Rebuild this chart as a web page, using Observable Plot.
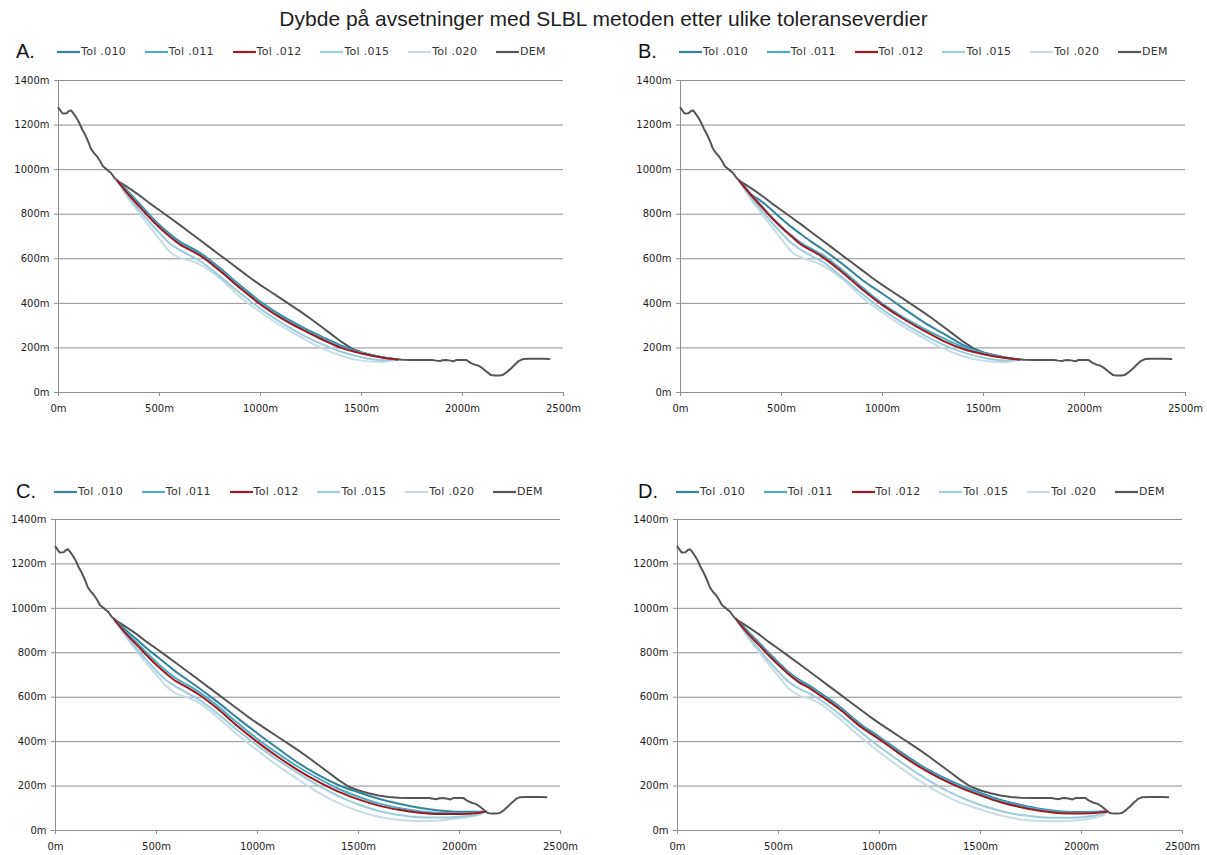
<!DOCTYPE html>
<html>
<head>
<meta charset="utf-8">
<script src="https://cdn.jsdelivr.net/npm/d3@7"></script>
<script src="https://cdn.jsdelivr.net/npm/@observablehq/plot@0.6"></script>
<style>
  html, body { margin: 0; padding: 0; background: #fff; }
  #root { position: relative; width: 1207px; height: 855px; overflow: hidden; background: #fff; }
  #title { position: absolute; left: 0; width: 1207px; top: 7px; text-align: center;
           font-family: "Liberation Sans", Arial, sans-serif; font-size: 21px; color: #1e1e1e; }
  .letter { position: absolute; font-family: "Liberation Sans", Arial, sans-serif; font-size: 20px; color: #111; line-height: 1; }
  .legtext { position: absolute; font-family: "DejaVu Sans", sans-serif; font-size: 11px; letter-spacing: 0.3px; color: #333; line-height: 1; white-space: nowrap; }
</style>
</head>
<body>
<div id="root">
  <div id="title">Dybde på avsetninger med SLBL metoden etter ulike toleranseverdier</div>
</div>
<script>
// ---------- data ----------
const SERIES = ["Tol .010", "Tol .011", "Tol .012", "Tol .015", "Tol .020", "DEM"];
const COLORS = ["#31849B", "#4BACC6", "#A0191E", "#9CCBDA", "#C8DCE5", "#555555"];
const PANELS = ["A.", "B.", "C.", "D."];
const X_TICKS = [0, 500, 1000, 1500, 2000, 2500];
const Y_TICKS = [0, 200, 400, 600, 800, 1000, 1200, 1400];

// terrain profile (same in all panels)
const DEM_X = [0,12,20,40,52,62,72,85,100,115,130,145,160,175,190,205,220,240,260,280,300,330,360,400,450,500,550,600,650,700,750,800,850,900,950,1000,1050,1100,1150,1200,1250,1300,1350,1400,1450,1500,1550,1600,1650,1700,1750,1800,1850,1870,1890,1900,1920,1940,1955,1970,2000,2020,2040,2060,2080,2100,2120,2140,2160,2180,2200,2220,2240,2260,2280,2300,2330,2360,2400,2430];
const DEM_Y = [1278,1262,1252,1253,1263,1266,1255,1238,1215,1185,1160,1130,1095,1075,1060,1040,1015,1000,985,960,945,928,910,885,850,818,785,752,718,684,650,616,582,548,514,482,452,422,392,362,330,296,262,228,198,180,168,158,151,147,146,146,146,143,141,145,146,143,140,146,146,146,133,125,120,108,93,79,76,76,79,92,108,126,142,150,151,151,151,150];

// SLBL surfaces: x positions
const X_AB = [290,350,400,450,500,550,600,650,700,800,900,1000,1100,1200,1300,1400,1500,1600,1680];
const X_CD = [290,350,400,450,500,550,600,650,700,800,900,1000,1100,1200,1300,1400,1500,1600,1700,1800,1900,2000,2100,2130];

// Panel A
const A_010 = [952,897,847,797,752,712,677,652,627,557,480,407,347,297,252,210,180,158,148];
const A_011 = [952,891,841,791,746,706,671,646,621,551,474,401,341,291,246,205,178,158,148];
const A_012 = [952,885,835,785,740,700,665,640,615,545,468,395,335,285,240,200,175,157,148];
const A_015 = [951,875,820,765,715,670,640,615,590,520,445,375,315,262,218,183,158,145,148];
const A_020 = [950,865,805,745,688,632,605,592,574,512,428,360,300,248,200,165,143,137,148];
// Panel B
const B_010 = [953,890,858,820,780,742,708,675,645,578,505,443,380,318,265,213,178,158,148];
const B_011 = [952,889,839,789,744,704,669,644,619,549,472,399,339,289,244,203,177,157,148];
const B_012 = [952,885,835,785,740,700,662,637,610,540,462,392,332,280,232,195,172,156,148];
const B_015 = [951,875,820,765,715,670,638,612,588,518,442,372,312,260,215,180,156,144,148];
const B_020 = [950,865,805,745,688,632,605,590,572,510,426,358,298,246,198,163,142,136,148];
// Panel C
const C_010 = [953,900,862,822,785,748,712,680,648,580,507,437,370,305,250,205,172,143,120,102,90,84,84,86];
const C_011 = [953,890,848,802,758,718,683,657,630,563,485,412,347,287,235,188,152,122,101,87,80,78,82,86];
const C_012 = [952,885,838,790,745,705,670,645,618,550,470,398,332,272,220,175,140,112,93,80,74,74,80,86];
const C_015 = [951,878,822,768,718,675,645,620,595,528,452,382,318,258,203,155,117,88,70,60,58,62,75,86];
const C_020 = [950,870,810,752,700,648,615,600,580,512,432,360,292,230,172,124,87,62,47,42,45,55,72,86];
// Panel D
const D_010 = [952,895,849,801,756,714,679,654,623,559,483,421,356,296,246,204,169,138,115,97,86,83,85,86];
const D_011 = [952,890,844,796,751,709,674,649,618,554,478,416,351,291,241,199,164,133,110,93,82,80,84,86];
const D_012 = [952,885,838,790,745,703,668,643,612,548,472,410,345,285,235,193,158,127,105,88,78,76,82,86];
const D_015 = [951,876,820,765,715,670,640,618,592,525,448,377,312,250,195,150,115,88,70,60,57,60,74,86];
const D_020 = [950,868,808,750,695,640,608,595,575,505,425,352,285,222,168,125,95,68,50,43,42,48,66,86];

const PANEL_DATA = [
  {xs: X_AB, ys: [A_010, A_011, A_012, A_015, A_020]},
  {xs: X_AB, ys: [B_010, B_011, B_012, B_015, B_020]},
  {xs: X_CD, ys: [C_010, C_011, C_012, C_015, C_020]},
  {xs: X_CD, ys: [D_010, D_011, D_012, D_015, D_020]}
];

// ---------- layout ----------
const LAYOUT = [
  {left: 0,   top: 70,  ml: 58, width: 603, plotH: 312, legY: 52},
  {left: 622, top: 70,  ml: 58, width: 603, plotH: 312, legY: 52},
  {left: 0,   top: 509, ml: 55, width: 600, plotH: 311, legY: 492},
  {left: 622, top: 509, ml: 55, width: 600, plotH: 311, legY: 492}
];

const root = document.getElementById("root");
const fmt = d => d + "m";
const GRID = "#8f8f8f";
const DRAW_ORDER = [4, 3, 0, 1, 2]; // light lines below, red on top

PANELS.forEach((letter, p) => {
  const L = LAYOUT[p];
  const P = PANEL_DATA[p];
  const demRows = DEM_X.map((x, i) => ({x, y: DEM_Y[i]}));
  const lineMarks = DRAW_ORDER.map(k => {
    const rows = P.xs.map((x, i) => ({x, y: P.ys[k][i]}));
    return Plot.line(rows, {x: "x", y: "y", stroke: COLORS[k], strokeWidth: 2, curve: "monotone-x"});
  });
  const chart = Plot.plot({
    width: L.width,
    height: 10 + L.plotH + 32,
    marginLeft: L.ml, marginRight: L.width - L.ml - 505, marginTop: 10, marginBottom: 32,
    x: {domain: [0, 2500], label: null},
    y: {domain: [0, 1400], label: null},
    style: {fontFamily: "'DejaVu Sans', sans-serif", fontSize: "10px", color: "#1c1c1c", background: "transparent", overflow: "visible"},
    marks: [
      Plot.gridY(Y_TICKS.filter(d => d > 0), {stroke: GRID, strokeOpacity: 1, strokeWidth: 1}),
      Plot.ruleY([0], {stroke: GRID, strokeWidth: 1}),
      Plot.ruleX([0], {stroke: GRID, strokeWidth: 1}),
      Plot.axisY({ticks: Y_TICKS, tickFormat: fmt, tickSize: 4, tickPadding: 5, stroke: GRID}),
      Plot.axisX({ticks: X_TICKS, tickFormat: fmt, tickSize: 4, tickPadding: 8, stroke: GRID}),
      Plot.line(demRows, {x: "x", y: "y", stroke: COLORS[5], strokeWidth: 2}),
      ...lineMarks
    ]
  });
  chart.style.position = "absolute";
  chart.style.left = L.left + "px";
  chart.style.top = L.top + "px";
  root.appendChild(chart);

  // panel letter
  const lt = document.createElement("div");
  lt.className = "letter";
  lt.textContent = letter;
  lt.style.left = (L.left + 16) + "px";
  lt.style.top = (L.legY - 11) + "px";
  root.appendChild(lt);

  // legend
  const x0 = L.left + L.ml;
  SERIES.forEach((name, i) => {
    const ls = x0 - 1 + 87.8 * i;
    const sw = document.createElementNS("http://www.w3.org/2000/svg", "svg");
    sw.setAttribute("width", 24); sw.setAttribute("height", 6);
    sw.style.position = "absolute";
    sw.style.left = ls + "px";
    sw.style.top = (L.legY - 3) + "px";
    const ln = document.createElementNS("http://www.w3.org/2000/svg", "line");
    ln.setAttribute("x1", 0); ln.setAttribute("x2", 23);
    ln.setAttribute("y1", 3); ln.setAttribute("y2", 3);
    ln.setAttribute("stroke", COLORS[i]); ln.setAttribute("stroke-width", 2.2);
    sw.appendChild(ln);
    root.appendChild(sw);
    const tx = document.createElement("div");
    tx.className = "legtext";
    tx.textContent = name;
    tx.style.left = (ls + 24) + "px";
    tx.style.top = (L.legY - 6) + "px";
    root.appendChild(tx);
  });
});
</script>
</body>
</html>
